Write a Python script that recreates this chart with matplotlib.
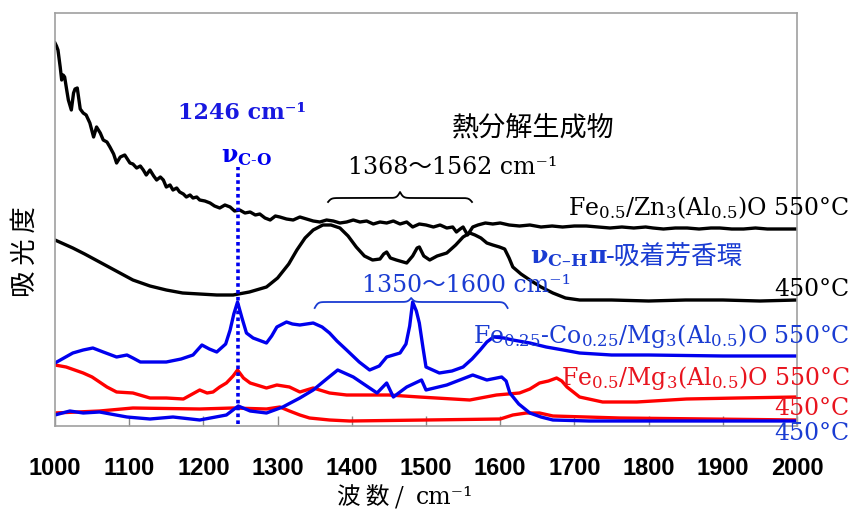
import matplotlib
matplotlib.use("Agg")
import matplotlib.pyplot as plt
import numpy as np

plt.rcParams['mathtext.fontset'] = 'dejavuserif'

# ---- data (absorbance, arbitrary units) ----
# Fe0.5/Zn3(Al0.5)O 550C  (black, noisy top curve)
wn_zn550 = [1000, 1002, 1004, 1007, 1009, 1011, 1013, 1016, 1018, 1022,
            1025, 1027, 1030, 1034, 1038, 1042, 1047, 1052, 1056, 1061,
            1065, 1070, 1074, 1079, 1083, 1088, 1094, 1101, 1105, 1110,
            1115, 1119, 1123, 1128, 1133, 1137, 1142, 1146, 1150, 1155,
            1159, 1164, 1168, 1173, 1177, 1182, 1186, 1191, 1195, 1202,
            1209, 1215, 1222, 1229, 1236, 1242, 1249, 1256, 1263, 1270,
            1276, 1283, 1290, 1297, 1303, 1312, 1321, 1330, 1339, 1348,
            1357, 1366, 1375, 1384, 1393, 1402, 1411, 1420, 1429, 1438,
            1447, 1456, 1465, 1474, 1482, 1491, 1500, 1510, 1519, 1528,
            1536, 1541, 1546, 1550, 1556, 1563, 1570, 1580, 1590, 1600,
            1612, 1626, 1640, 1655, 1670, 1684, 1700, 1716, 1732, 1748,
            1764, 1780, 1796, 1806, 1820, 1836, 1852, 1868, 1884, 1896,
            1912, 1928, 1944, 1960, 1976, 1990, 2000]
ab_zn550 = [383, 380, 376, 359, 346, 351, 349, 335, 326, 316,
            333, 337, 338, 317, 313, 311, 303, 289, 299, 293,
            286, 284, 279, 272, 263, 269, 271, 263, 262, 258,
            260, 256, 251, 256, 250, 246, 249, 246, 239, 241,
            236, 238, 234, 232, 229, 231, 228, 229, 226, 225,
            223, 220, 218, 221, 219, 215, 216, 213, 214, 211,
            212, 208, 206, 210, 209, 207, 206, 209, 207, 205,
            204, 206, 205, 203, 204, 206, 204, 205, 202, 204,
            203, 205, 202, 204, 199, 202, 201, 199, 201, 198,
            199, 194, 197, 199, 191, 199, 201, 203, 202, 203,
            201, 200, 201, 199, 200, 199, 200, 200, 199, 198,
            199, 198, 199, 198, 197, 198, 198, 197, 198, 198,
            197, 197, 198, 197, 197, 197, 197]

# Fe0.5/Zn3(Al0.5)O 450C  (black)
wn_zn450 = [1000, 1012, 1024, 1040, 1060, 1080, 1105, 1128, 1150, 1172,
            1195, 1218, 1240, 1262, 1285, 1300, 1315, 1326, 1337, 1348,
            1361, 1372, 1384, 1395, 1406, 1417, 1428, 1438, 1443, 1447,
            1452, 1460, 1474, 1482, 1488, 1491, 1497, 1505, 1515, 1528,
            1540, 1550, 1559, 1566, 1574, 1582, 1590, 1599, 1606, 1612,
            1617, 1628, 1640, 1655, 1671, 1688, 1707, 1750, 1800, 1850,
            1900, 1950, 2000]
ab_zn450 = [186, 182, 178, 172, 164, 156, 146, 140, 136, 133,
            132, 131, 131, 134, 139, 148, 162, 176, 188, 196,
            201, 201, 198, 190, 179, 170, 166, 167, 172, 174,
            168, 166, 163, 170, 178, 179, 170, 166, 170, 173,
            181, 189, 193, 191, 188, 183, 181, 179, 177, 168,
            159, 152, 146, 139, 133, 128, 126, 126, 125, 126,
            126, 125, 126]

# Fe0.25-Co0.25/Mg3(Al0.5)O 550C  (blue)
wn_co550 = [1000, 1012, 1024, 1038, 1051, 1065, 1083, 1097, 1105, 1115,
            1150, 1170, 1186, 1198, 1208, 1218, 1230, 1236, 1241, 1246,
            1252, 1258, 1267, 1285, 1292, 1299, 1312, 1320, 1330, 1348,
            1360, 1370, 1380, 1393, 1410, 1424, 1437, 1447, 1465, 1473,
            1478, 1482, 1487, 1491, 1496, 1500, 1518, 1535, 1550, 1562,
            1573, 1582, 1591, 1605, 1617, 1640, 1662, 1685, 1707, 1750,
            1800, 1900, 2000]
ab_co550 = [63, 68, 73, 76, 78, 74, 69, 71, 68, 64,
            64, 67, 71, 81, 77, 74, 82, 96, 112, 124,
            108, 93, 88, 83, 90, 99, 104, 102, 101, 103,
            99, 93, 85, 76, 64, 56, 60, 69, 73, 82,
            100, 124, 115, 103, 78, 59, 53, 55, 59, 67,
            76, 84, 89, 88, 86, 83, 79, 76, 73, 71,
            71, 70, 70]

# Fe0.5/Mg3(Al0.5)O 550C  (red)
wn_mg550 = [1000, 1015, 1038, 1050, 1060, 1070, 1083, 1105, 1128, 1150,
            1173, 1195, 1205, 1213, 1222, 1231, 1240, 1246, 1254, 1263,
            1285, 1299, 1316, 1330, 1348, 1370, 1393, 1450, 1491, 1559,
            1595, 1626, 1640, 1653, 1665, 1676, 1683, 1690, 1707, 1738,
            1784, 1851, 1920, 2000]
ab_mg550 = [61, 59, 53, 49, 44, 39, 34, 33, 28, 28,
            27, 36, 33, 34, 39, 43, 50, 56, 48, 43,
            38, 41, 39, 34, 38, 33, 31, 31, 29, 26,
            31, 33, 37, 43, 45, 48, 45, 39, 29, 24,
            24, 27, 28, 29]

# Fe0.5/Mg3(Al0.5)O 450C  (red)
wn_mg450 = [1000, 1060, 1105, 1195, 1240, 1285, 1303, 1316, 1330, 1343,
            1370, 1397, 1500, 1600, 1617, 1635, 1653, 1671, 1761, 2000]
ab_mg450 = [13, 15, 18, 17, 18, 17, 19, 15, 11, 8,
            6, 5, 6, 7, 11, 13, 13, 10, 8, 6]

# Fe0.25-Co0.25/Mg3(Al0.5)O 450C  (blue)
wn_co450 = [1000, 1020, 1038, 1060, 1097, 1128, 1159, 1195, 1231, 1247,
            1263, 1285, 1307, 1330, 1348, 1366, 1381, 1402, 1420, 1434,
            1447, 1456, 1474, 1494, 1500, 1528, 1563, 1582, 1602, 1608,
            1613, 1625, 1640, 1655, 1671, 1720, 2000]
ab_co450 = [11, 15, 13, 14, 9, 7, 9, 6, 11, 20,
            15, 13, 19, 28, 36, 47, 56, 49, 40, 33,
            43, 29, 39, 46, 36, 41, 51, 46, 49, 45,
            33, 22, 13, 9, 6, 5, 5]

peak_co = 1246
range_black = (1368, 1562)
range_blue = (1350, 1600)
xticks = [1000, 1100, 1200, 1300, 1400, 1500, 1600, 1700, 1800, 1900, 2000]

BLACK = '#000000'
BLUE = '#0000ee'
BLUE_T = '#1a3cd2'
RED = '#ff0000'
RED_T = '#e8141e'


def brace(ax, x0, x1, y0, a, b, color, lw=1.3, beta=0.45):
    # curly brace, tip pointing up at the centre
    xm = (x0 + x1) / 2
    xl = np.linspace(x0, xm, 150)
    s1 = 2 * (1 / (1 + np.exp(-beta * (xl - x0))) - 0.5)
    s2 = 2 / (1 + np.exp(-beta * (xl - xm)))
    yl = y0 + a * s1 + b * s2
    xs = np.concatenate([xl, (2 * xm - xl)[::-1]])
    ys = np.concatenate([yl, yl[::-1]])
    ax.plot(xs, ys, color=color, lw=lw, clip_on=False)


fig = plt.figure(figsize=(8.51, 5.13), dpi=100)
ax = fig.add_axes([55 / 851, 87 / 513, 742 / 851, 413 / 513])

lw = 2.4
ax.plot(wn_zn550, ab_zn550, color=BLACK, lw=lw)
ax.plot(wn_zn450, ab_zn450, color=BLACK, lw=lw)
ax.plot(wn_mg550, ab_mg550, color=RED, lw=lw)
ax.plot(wn_mg450, ab_mg450, color=RED, lw=lw)
ax.plot(wn_co550, ab_co550, color=BLUE, lw=lw)
ax.plot(wn_co450, ab_co450, color=BLUE, lw=lw)
ax.vlines(peak_co, 2, 259, colors=BLUE, lw=2.6, linestyles=(0, (1, 0.9)))

ax.set_xlim(1000, 2000)
ax.set_ylim(0, 413)
ax.set_yticks([])
ax.set_xticks(xticks)
ax.tick_params(axis='x', direction='in', length=7, width=1, color='#888888', pad=22)
for lab in ax.get_xticklabels():
    lab.set_family('Liberation Sans')
    lab.set_weight('bold')
    lab.set_fontsize(17)
for sp in ax.spines.values():
    sp.set_color('#a0a0a0')
    sp.set_linewidth(1.2)

serif = ['DejaVu Serif', 'Noto Sans CJK JP']
fs = 17

# annotations
ax.text(1252, 313, '1246 cm⁻¹', color='#1818e0', fontsize=16, family=serif,
        weight='bold', ha='center', va='center')
ax.text(1258, 270, r'$\mathbf{\nu}_{\mathbf{C\text{-}O}}$', color=BLUE, fontsize=17,
        ha='center', va='center')
ax.text(1644, 298, '熱分解生成物', color=BLACK, fontsize=19.5,
        family='Noto Sans CJK JP', ha='center', va='center')
ax.text(1536, 258, '1368～1562 cm⁻¹', color=BLACK, fontsize=fs, family=serif,
        ha='center', va='center')
brace(ax, range_black[0], range_black[1], 224, 4, 6, BLACK)
ax.text(1555, 140, '1350～1600 cm⁻¹', color=BLUE_T, fontsize=fs, family=serif,
        ha='center', va='center')
brace(ax, range_blue[0], range_blue[1] + 10, 118, 6, 4, BLUE_T)

ax.text(1640, 163, r'$\mathbf{\nu}_{\mathbf{C\text{–}H}}$', color=BLUE_T, fontsize=18,
        ha='left', va='baseline')
ax.text(1718, 170, 'π', color=BLUE_T, fontsize=18, family='DejaVu Serif',
        weight='bold', ha='left', va='center')
ax.text(1742, 170, '-吸着芳香環', color=BLUE_T, fontsize=18.5, family=serif,
        ha='left', va='center')

xr = 2071
ax.text(xr, 211, r'Fe$_{0.5}$/Zn$_3$(Al$_{0.5}$)O 550°C', color=BLACK, fontsize=fs,
        family='DejaVu Serif', ha='right', va='baseline', clip_on=False)
ax.text(xr, 130, '450°C', color=BLACK, fontsize=fs, family='DejaVu Serif',
        ha='right', va='baseline', clip_on=False)
ax.text(xr, 83, r'Fe$_{0.25}$-Co$_{0.25}$/Mg$_3$(Al$_{0.5}$)O 550°C', color=BLUE_T,
        fontsize=fs, family='DejaVu Serif', ha='right', va='baseline', clip_on=False)
ax.text(xr, 41, r'Fe$_{0.5}$/Mg$_3$(Al$_{0.5}$)O 550°C', color=RED_T, fontsize=fs,
        family='DejaVu Serif', ha='right', va='baseline', clip_on=False)
ax.text(xr, 11, '450°C', color=RED_T, fontsize=fs, family='DejaVu Serif',
        ha='right', va='baseline', clip_on=False)
ax.text(xr, -14, '450°C', color=BLUE_T, fontsize=fs, family='DejaVu Serif',
        ha='right', va='baseline', clip_on=False)

# axis labels
fig.text(25 / 851, 1 - 252 / 513, '吸 光 度', rotation=90, fontsize=19,
         family='Noto Sans CJK JP', ha='center', va='center')
fig.text(404 / 851, 1 - 497 / 513, '波 数 /', fontsize=17,
         family='Noto Sans CJK JP', ha='right', va='center')
fig.text(416 / 851, 1 - 497 / 513, 'cm⁻¹', fontsize=17,
         family='DejaVu Serif', ha='left', va='center')

fig.savefig('out.png', dpi=100)
